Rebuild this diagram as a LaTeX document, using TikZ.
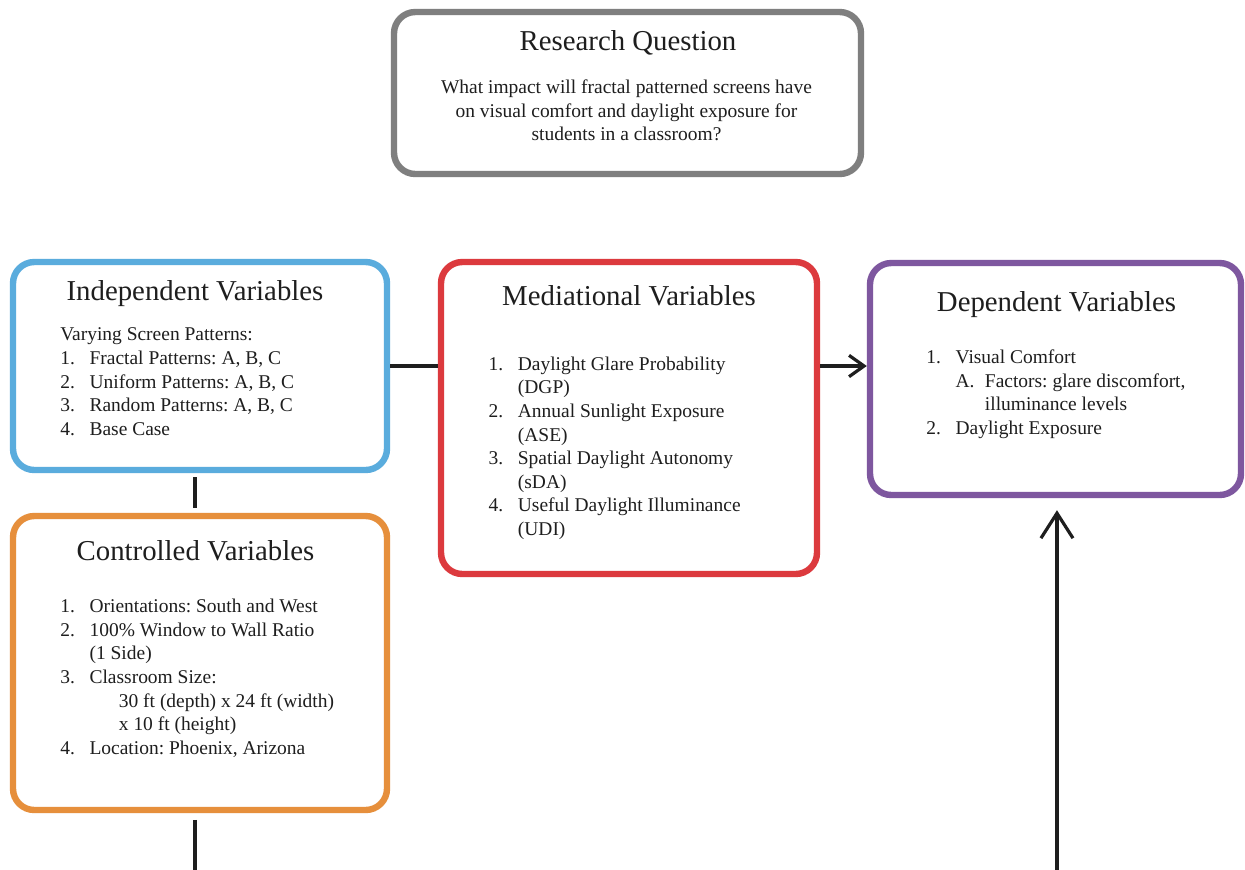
\documentclass[tikz,border=0pt]{standalone}
\usepackage{fontspec}
\setmainfont{Liberation Serif}
\usetikzlibrary{arrows.meta}
\definecolor{rqgray}{HTML}{7F7F7F}
\definecolor{indblue}{HTML}{5AACDD}
\definecolor{medred}{HTML}{DC3A3E}
\definecolor{conorange}{HTML}{E68F3C}
\definecolor{deppurple}{HTML}{7E579F}
\definecolor{inkc}{HTML}{1E1E1E}
\newcommand\itm[1]{\makebox[22pt][l]{#1}}
\begin{document}
\frenchspacing
\begin{tikzpicture}[x=0.75pt,y=-0.75pt,
  box/.style={draw=#1, line width=4.8pt, rounded corners=16pt, inner sep=0pt, fill=white},
  ttl/.style={anchor=base, inner sep=0pt, text=inkc, font=\fontsize{21.6}{26}\selectfont},
  body/.style={inner sep=0pt, text=inkc, font=\fontsize{14.6}{17.7}\selectfont\frenchspacing, align=left, anchor=north west},
  conn/.style={draw=inkc, line width=2.4pt},
  smalltip/.style={-{Straight Barb[length=11.25pt,width=16pt]}},
  bigtip/.style={-{Straight Barb[length=18.75pt,width=24pt]}}
]
\useasboundingbox (0,0) rectangle (1245,869);
\clip (0,0) rectangle (1245,869);
\fill[white] (0,0) rectangle (1245,869);

% boxes
\node[box=rqgray, minimum width=467*0.75pt, minimum height=162*0.75pt] (rq) at (627.5,93) {};
\node[box=indblue, minimum width=374*0.75pt, minimum height=208*0.75pt] (ind) at (200,366) {};
\node[box=conorange, minimum width=374*0.75pt, minimum height=294*0.75pt] (cont) at (200,663) {};
\node[box=medred, minimum width=376*0.75pt, minimum height=312*0.75pt] (med) at (629,418) {};
\node[box=deppurple, minimum width=371*0.75pt, minimum height=232*0.75pt] (dep) at (1055.5,379) {};

% titles
\node[ttl] (rqT) at (628,50) {Research Question};
\node[ttl] (indT) at (195,300) {Independent Variables};
\node[ttl] (contT) at (195.5,560) {Controlled Variables};
\node[ttl] (medT) at (629,305) {Mediational Variables};
\node[ttl] (depT) at (1056.5,311.7) {Dependent Variables};

% bodies
\node[body, align=center, anchor=north] (rqB) at (626.5,76.8)
  {\strut What impact will fractal patterned screens have\\
   on visual comfort and daylight exposure for\\
   students in a classroom?};
\node[body] (indB) at (60,324.2)
  {\strut Varying Screen Patterns:\\
   \itm{1.}Fractal Patterns: A, B, C\\
   \itm{2.}Uniform Patterns: A, B, C\\
   \itm{3.}Random Patterns: A, B, C\\
   \itm{4.}Base Case};
\node[body] (contB) at (60,595.8)
  {\strut\itm{1.}Orientations: South and West\\
   \itm{2.}100\% Window to Wall Ratio\\
   \hspace*{22pt}(1 Side)\\
   \itm{3.}Classroom Size:\\
   \hspace*{44pt}30 ft (depth) x 24 ft (width)\\
   \hspace*{44pt}x 10 ft (height)\\
   \itm{4.}Location: Phoenix, Arizona};
\node[body] (medB) at (488.3,353.5)
  {\strut\itm{1.}Daylight Glare Probability\\
   \hspace*{22pt}(DGP)\\
   \itm{2.}Annual Sunlight Exposure\\
   \hspace*{22pt}(ASE)\\
   \itm{3.}Spatial Daylight Autonomy\\
   \hspace*{22pt}(sDA)\\
   \itm{4.}Useful Daylight Illuminance\\
   \hspace*{22pt}(UDI)};
\node[body] (depB) at (926,346.8)
  {\strut\itm{1.}Visual Comfort\\
   \hspace*{22pt}\itm{A.}Factors: glare discomfort,\\
   \hspace*{44pt}illuminance levels\\
   \itm{2.}Daylight Exposure};

% connectors
\draw[conn] (ind.east) -- (ind.east -| med.west);
\draw[conn, smalltip] (med.east |- ind.east) -- (dep.west |- ind.east);
\draw[conn, shorten <=3pt, shorten >=3.6pt] ([xshift=-3.75pt]ind.south) -- ([xshift=-3.75pt]cont.north);
\draw[conn, bigtip, shorten <=5pt, shorten >=9pt] ([xshift=-3.75pt]cont.south) -- ++(0,80) -| ([xshift=1.1pt]dep.south);
\end{tikzpicture}
\end{document}
